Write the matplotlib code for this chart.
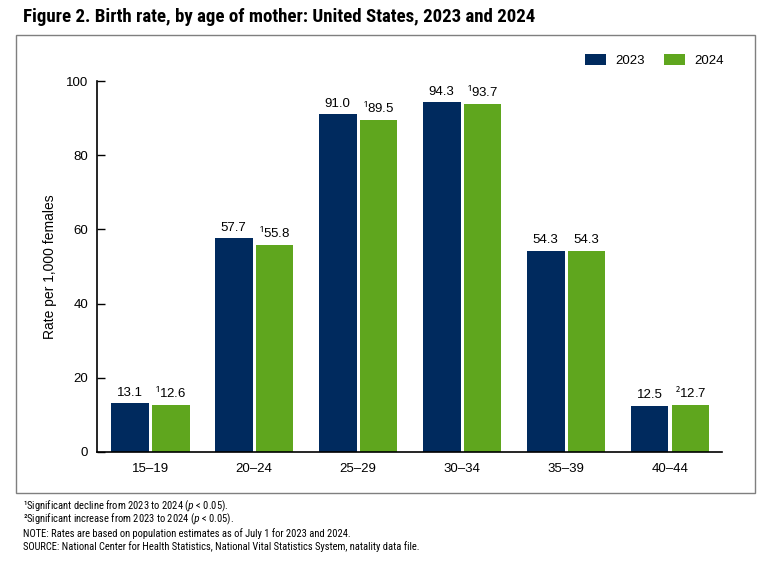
import matplotlib
matplotlib.use("Agg")
import matplotlib.pyplot as plt
import numpy as np
from matplotlib.patches import Rectangle

# datos
grupos = ["15–19", "20–24", "25–29", "30–34", "35–39", "40–44"]
tasa_2023 = [13.1, 57.7, 91.0, 94.3, 54.3, 12.5]
tasa_2024 = [12.6, 55.8, 89.5, 93.7, 54.3, 12.7]
nota_2024 = ["1", "1", "1", "1", "", "2"]  # superindice de significancia
y_ticks = [0, 20, 40, 60, 80, 100]

AZUL = "#002a5e"
VERDE = "#5fa61e"
ANGOSTA = ["Roboto Condensed", "Fira Sans Condensed", "DejaVu Sans"]

plt.rcParams["font.family"] = ["Liberation Sans", "DejaVu Sans"]
plt.rcParams["mathtext.fontset"] = "custom"
plt.rcParams["mathtext.rm"] = "Fira Sans Condensed"
plt.rcParams["mathtext.it"] = "Fira Sans Condensed:italic"

fig = plt.figure(figsize=(7.71, 5.63), dpi=100)

# marco gris alrededor del grafico
fig.patches.append(Rectangle((16 / 771, 1 - 493 / 563), 739 / 771, 458 / 563,
                             transform=fig.transFigure, fill=False,
                             edgecolor="#7f7f7f", linewidth=1.0))

ax = fig.add_axes([97 / 771, 1 - 452 / 563, 625 / 771, 371 / 563])

x = np.arange(len(grupos))
ancho = 0.365
off = 0.197
ax.bar(x - off, tasa_2023, ancho, color=AZUL, label="2023")
ax.bar(x + off, tasa_2024, ancho, color=VERDE, label="2024")

for xi, v in zip(x, tasa_2023):
    ax.annotate(f"{v:.1f}", (xi - off, v), xytext=(0, 3), textcoords="offset points",
                ha="center", va="bottom", fontsize=9.5)
for xi, v, n in zip(x, tasa_2024, nota_2024):
    txt = f"{v:.1f}" if n == "" else f"$^{{{n}}}${v:.1f}"
    ax.annotate(txt, (xi + off, v), xytext=(0, 3), textcoords="offset points",
                ha="center", va="bottom", fontsize=9.5)

ax.set_xlim(-0.51, 5.5)
ax.set_ylim(0, 100)
ax.set_yticks(y_ticks)
ax.set_xticks(x)
ax.set_xticklabels(grupos)
ax.tick_params(axis="x", length=0, pad=8, labelsize=9.5)
# las marcas del eje y van hacia adentro
ax.tick_params(axis="y", direction="in", length=6, width=1, pad=6.5, labelsize=9.5)
ax.spines["top"].set_visible(False)
ax.spines["right"].set_visible(False)
ax.spines["left"].set_linewidth(1.2)
ax.spines["bottom"].set_linewidth(1.2)
ax.set_ylabel("Rate per 1,000 females", fontsize=10, labelpad=6.5)

h, l = ax.get_legend_handles_labels()
fig.legend(h, l, loc="center right", bbox_to_anchor=(724 / 771, 1 - 60.5 / 563), ncol=2,
           frameon=False, fontsize=9.5, handlelength=1.6, handleheight=0.85,
           columnspacing=1.5, handletextpad=0.7, borderpad=0, borderaxespad=0)

fig.text(23 / 771, 1 - 17 / 563, "Figure 2. Birth rate, by age of mother: United States, 2023 and 2024",
         family=ANGOSTA, fontweight="bold", fontsize=13.6, va="center", ha="left")

notas = [
    "¹Significant decline from 2023 to 2024 ($p$ < 0.05).",
    "²Significant increase from 2023 to 2024 ($p$ < 0.05).",
    "NOTE: Rates are based on population estimates as of July 1 for 2023 and 2024.",
    "SOURCE: National Center for Health Statistics, National Vital Statistics System, natality data file.",
]
for i, t in enumerate(notas):
    fig.text(23 / 771, 1 - (506 + 13.6 * i) / 563, t, family=ANGOSTA, fontsize=7.6,
             va="center", ha="left")

plt.savefig("out.png", dpi=100)
